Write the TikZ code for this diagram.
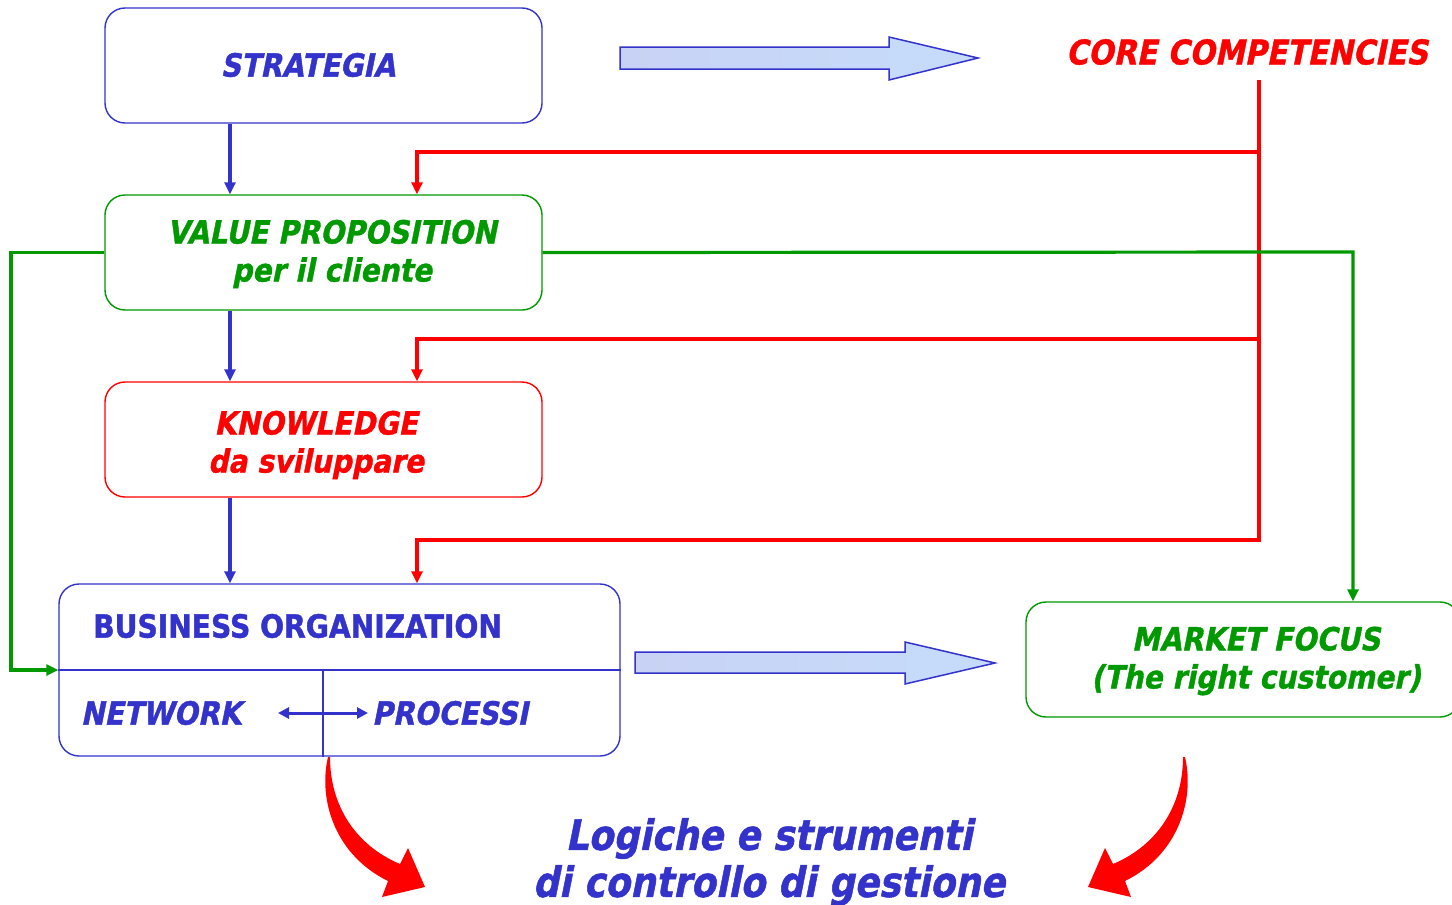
\documentclass[tikz,border=0pt]{standalone}
\usepackage{fontspec}
\setmainfont{DejaVu Sans}
% heavy, narrow faces for the labels
\newfontfamily\slfont[FakeStretch=0.88, FakeSlant=0.2, FakeBold=1.2]{DejaVu Sans Bold}
\newfontfamily\upfont[FakeStretch=0.88, FakeBold=1.2]{DejaVu Sans Bold}
\newfontfamily\bigslfont[FakeStretch=0.86, FakeSlant=0.2, FakeBold=1.2]{DejaVu Sans Bold}
\usetikzlibrary{arrows.meta}
\definecolor{dblue}{RGB}{51,51,204}
\definecolor{dgreen}{RGB}{0,153,0}
\definecolor{dred}{RGB}{255,0,0}
\definecolor{fillA}{RGB}{200,210,244}
\definecolor{fillB}{RGB}{198,220,250}
% curved red arrow, tail at the top, head pointing down-right
\newcommand{\swooshpath}{(328,757) .. controls (318,800) and (335,855) .. (388,881) -- (382,897) -- (425,887) -- (408,848) -- (400,864) .. controls (355,845) and (330,805) .. (330,757) -- cycle}
\begin{document}
\begin{tikzpicture}[x=1pt,y=-1pt,
  box/.style={draw, rounded corners=20pt, line width=1.4pt, fill=white, inner sep=0pt},
  lbl/.style={font=\slfont\fontsize{32}{38}\selectfont, align=center, inner sep=0pt},
  conn/.style={line width=3.2pt},
  tip/.style={-{Triangle[length=12pt,width=11pt]}},
  blockarrow/.style={draw=dblue, line width=1.5pt, left color=fillA, right color=fillB},
  swoosh/.style={fill=dred, draw=none},
]
\useasboundingbox (0,0) rectangle (1452,905);

% boxes
\node[box, draw=dblue, minimum width=437pt, minimum height=115pt] (strat) at (323.5,65.5) {};
\node[box, draw=dgreen, minimum width=437pt, minimum height=115pt] (vp) at (323.5,252.5) {};
\node[box, draw=dred, minimum width=437pt, minimum height=115pt] (kn) at (323.5,439.5) {};
\node[box, draw=dblue, minimum width=561pt, minimum height=172pt] (bo) at (339.5,670) {};
\node[box, draw=dgreen, minimum width=434pt, minimum height=115pt] (mf) at (1243,659.5) {};

% divisions of the organization box
\coordinate (dv) at (323,0);
\draw[dblue, line width=1.4pt] (bo.west) -- (bo.east);
\draw[dblue, line width=1.4pt] (dv |- bo.center) -- (dv |- bo.south);

% texts
\node[lbl, text=dblue] (tstrat) at (308,65) {STRATEGIA};
\node[lbl, text=dgreen] (tvp) at (332,254) {VALUE PROPOSITION\\per il cliente};
\node[lbl, text=dred] (tkn) at (316,445) {KNOWLEDGE\\da sviluppare};
\node[lbl, text=dgreen] (tmf) at (1256,661) {MARKET FOCUS\\(The right customer)};
\node[lbl, font=\slfont\fontsize{34}{38}\selectfont, text=dred] (core) at (1247,52) {CORE COMPETENCIES};
\node[font=\upfont\fontsize{32}{34}\selectfont, text=dblue, inner sep=0pt, anchor=west] (tbo) at (93,626) {BUSINESS ORGANIZATION};
\node[lbl, text=dblue] (net) at (161,713) {NETWORK};
\node[lbl, text=dblue] (proc) at (450,713) {PROCESSI};
\node[font=\bigslfont\fontsize{42}{47}\selectfont, align=center, inner sep=0pt, text=dblue] (tlog) at (769,862) {Logiche e strumenti\\di controllo di gestione};

% blue downward flow
\coordinate (colA) at (230,0);
\draw[conn, tip, dblue] (colA |- strat.south) -- (colA |- vp.north);
\draw[conn, tip, dblue] (colA |- vp.south) -- (colA |- kn.north);
\draw[conn, tip, dblue] (colA |- kn.south) -- (colA |- bo.north);

% network <-> processi
\coordinate (na) at (278,713);
\coordinate (nb) at (368,713);
\draw[dblue, line width=3pt, {Triangle[length=11pt,width=11pt]}-{Triangle[length=11pt,width=11pt]}] (na) -- (nb);

% red feedback from the core competencies
\coordinate (ctop) at (1259,80);
\coordinate (r1) at (1259,152);
\coordinate (r2) at (1259,339);
\coordinate (r3) at (1259,540);
\coordinate (brx) at (417,0);
\draw[conn, dred, tip] (ctop) -- (r3) -| (brx |- bo.north);
\draw[conn, dred, tip] (r1) -| (brx |- vp.north);
\draw[conn, dred, tip] (r2) -| (brx |- kn.north);

% green links from the value proposition
\coordinate (gl) at (11,670);
\coordinate (gr) at (1353,252);
\draw[conn, dgreen, tip] (vp.west) -| (gl) -- (bo.west);
\draw[conn, dgreen, tip] (vp.east) -- (gr) -- (gr |- mf.north);

% block arrows
\draw[blockarrow] (620,47) -- (889,47) -- (889,37) -- (978,58) -- (889,80) -- (889,69) -- (620,69) -- cycle;
\draw[blockarrow] (635,652) -- (905,652) -- (905,642) -- (995,663) -- (905,684) -- (905,673) -- (635,673) -- cycle;

% curved red arrows towards the bottom text
\fill[swoosh] \swooshpath;
\begin{scope}[xshift=1513pt, xscale=-1]
\fill[swoosh] \swooshpath;
\end{scope}
\end{tikzpicture}
\end{document}
